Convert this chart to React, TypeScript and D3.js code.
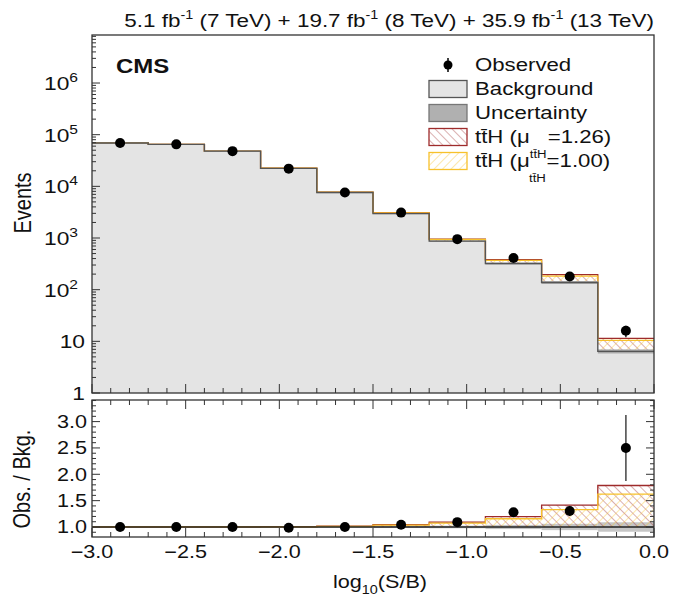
import React from "react";
import * as d3 from "d3";

// Bin edges in log10(S/B)
const binEdges = [-3.0, -2.7, -2.4, -2.1, -1.8, -1.5, -1.2, -0.9, -0.6, -0.3, 0.0];
// Observed events per bin and their uncertainties
const observed = [69000, 65000, 48000, 22000, 7600, 3100, 950, 410, 180, 16];
const observedErr = [263, 255, 219, 148, 87, 56, 31, 20, 13.4, 4.0];
// Expected background per bin
const background = [69000, 65000, 48000, 22300, 7600, 2970, 870, 320, 138, 6.4];
// Relative background uncertainty
const bkgRelUnc = [0.015, 0.015, 0.015, 0.015, 0.015, 0.02, 0.025, 0.04, 0.06, 0.09];
// Expected ttH signal for mu = 1
const signalSM = [35, 65, 96, 90, 91, 104, 65, 50, 45.5, 4.0];
// Signal strengths
const muFit = 1.26;
const muSM = 1.0;

const xTicksMajor = [-3.0, -2.5, -2.0, -1.5, -1.0, -0.5, 0.0];
const ratioTicksMajor = [1.0, 1.5, 2.0, 2.5, 3.0];
const decades = [0, 1, 2, 3, 4, 5, 6];

const FONT = "'Liberation Sans', Arial, Helvetica, sans-serif";
const BROWN = "#9e2b2b";
const YELLOW = "#f7c12b";
const SX = 1.2; // horizontal glyph stretch

type TProps = {
  x: number;
  y: number;
  size: number;
  anchor?: "start" | "middle" | "end";
  weight?: string;
  children: React.ReactNode;
};

// Horizontal text with slightly widened glyphs
function T({ x, y, size, anchor = "start", weight, children }: TProps) {
  return (
    <text
      transform={`translate(${x},${y}) scale(${SX},1)`}
      textAnchor={anchor}
      fontSize={size}
      fontWeight={weight}
      fill="#111"
    >
      {children}
    </text>
  );
}

// Vertical (rotated) axis title
function VT({ x, y, size, children }: { x: number; y: number; size: number; children: React.ReactNode }) {
  return (
    <text
      transform={`translate(${x},${y}) scale(${SX},1) rotate(-90)`}
      textAnchor="middle"
      fontSize={size}
      fill="#111"
    >
      {children}
    </text>
  );
}

export default function App() {
  const W = 675, H = 598;
  const L = 92, R = 654;
  const topT = 35, topB = 393;
  const ratT = 400, ratB = 537;

  const x = d3.scaleLinear().domain([-3, 0]).range([L, R]);
  const y = d3.scaleLog().domain([1, 8.5e6]).range([topB, topT]);
  const yr = d3.scaleLinear().domain([0.81, 3.41]).range([ratB, ratT]);

  const bins = observed.map((o, i) => ({
    lo: binEdges[i],
    hi: binEdges[i + 1],
    c: (binEdges[i] + binEdges[i + 1]) / 2,
    obs: o,
    err: observedErr[i],
    bkg: background[i],
    unc: bkgRelUnc[i],
    sig: signalSM[i],
  }));

  const stepLine = d3
    .line<[number, number]>()
    .x((d) => d[0])
    .y((d) => d[1])
    .curve(d3.curveStepAfter);

  const stepArea = d3
    .area<[number, number]>()
    .x((d) => d[0])
    .y0(topB)
    .y1((d) => d[1])
    .curve(d3.curveStepAfter);

  const stepPts = (f: (b: (typeof bins)[0]) => number) => {
    const pts: [number, number][] = bins.map((b) => [x(b.lo), f(b)]);
    pts.push([x(binEdges[binEdges.length - 1]), f(bins[bins.length - 1])]);
    return pts;
  };

  // minor ticks
  const xMinor = d3.range(-3.0, 0.001, 0.1).map((v) => +v.toFixed(2));
  const logMinor: number[] = [];
  for (let d = 0; d <= 6; d++) for (let k = 2; k <= 9; k++) {
    const v = k * Math.pow(10, d);
    if (v < 8.5e6) logMinor.push(v);
  }
  const ratioMinor = d3.range(0.9, 3.41, 0.1).map((v) => +v.toFixed(2));

  const isMajorX = (v: number) => xTicksMajor.some((m) => Math.abs(m - v) < 1e-6);
  const isMajorR = (v: number) => ratioTicksMajor.some((m) => Math.abs(m - v) < 1e-6);

  const legX = 429, legBoxW = 38, legBoxH = 17, legTextX = 475;
  const legRows = [65, 89, 113, 137, 161];
  const legSize = 18.5;

  return (
    <svg
      width={W}
      height={H}
      style={{ position: "absolute", left: 0, top: 0, background: "#fff" }}
      fontFamily={FONT}
    >
      <defs>
        <pattern id="hatchBrown" width="6" height="6" patternUnits="userSpaceOnUse" patternTransform="rotate(-45)">
          <line x1="0" y1="0" x2="0" y2="6" stroke={BROWN} strokeWidth="1" opacity="0.75" />
        </pattern>
        <pattern id="hatchYellow" width="6" height="6" patternUnits="userSpaceOnUse" patternTransform="rotate(45)">
          <line x1="0" y1="0" x2="0" y2="6" stroke={YELLOW} strokeWidth="1" opacity="0.8" />
        </pattern>
        <clipPath id="clipTop">
          <rect x={L} y={topT} width={R - L} height={topB - topT} />
        </clipPath>
        <clipPath id="clipRat">
          <rect x={L} y={ratT} width={R - L} height={ratB - ratT} />
        </clipPath>
      </defs>

      {/* Title */}
      <T x={R} y={27} size={18.7} anchor="end">
        5.1 fb<tspan dy={-8} fontSize={12}>-1</tspan>
        <tspan dy={8}> (7 TeV) + 19.7 fb</tspan>
        <tspan dy={-8} fontSize={12}>-1</tspan>
        <tspan dy={8}> (8 TeV) + 35.9 fb</tspan>
        <tspan dy={-8} fontSize={12}>-1</tspan>
        <tspan dy={8}> (13 TeV)</tspan>
      </T>

      {/* ===== Top panel ===== */}
      <g clipPath="url(#clipTop)">
        {/* background fill */}
        <path d={stepArea(stepPts((b) => y(b.bkg))) || ""} fill="#e4e4e4" />
        {/* signal hatches stacked on background */}
        {bins.map((b, i) => (
          <g key={"sg" + i}>
            <rect x={x(b.lo)} y={y(b.bkg + muFit * b.sig)} width={x(b.hi) - x(b.lo)} height={y(b.bkg) - y(b.bkg + muFit * b.sig)} fill="url(#hatchBrown)" />
            <rect x={x(b.lo)} y={y(b.bkg + muSM * b.sig)} width={x(b.hi) - x(b.lo)} height={y(b.bkg) - y(b.bkg + muSM * b.sig)} fill="url(#hatchYellow)" />
          </g>
        ))}
        <path d={stepLine(stepPts((b) => y(b.bkg + muFit * b.sig))) || ""} fill="none" stroke={BROWN} strokeWidth={1.3} />
        <path d={stepLine(stepPts((b) => y(b.bkg + muSM * b.sig))) || ""} fill="none" stroke={YELLOW} strokeWidth={1.3} />
        {/* background uncertainty */}
        {bins.map((b, i) => (
          <rect key={"bu" + i} x={x(b.lo)} y={y(b.bkg * (1 + b.unc))} width={x(b.hi) - x(b.lo)} height={Math.max(1, y(b.bkg * (1 - b.unc)) - y(b.bkg * (1 + b.unc)))} fill="#a8a8a8" />
        ))}
        <path d={stepLine(stepPts((b) => y(b.bkg))) || ""} fill="none" stroke="#555" strokeWidth={1.4} />
        {/* observed */}
        {bins.map((b, i) => (
          <g key={"ob" + i}>
            <line x1={x(b.c)} x2={x(b.c)} y1={y(b.obs + b.err)} y2={y(Math.max(b.obs - b.err, 1))} stroke="#222" strokeWidth={1.5} />
            <circle cx={x(b.c)} cy={y(b.obs)} r={5} fill="#000" />
          </g>
        ))}
      </g>

      {/* top frame & ticks */}
      <rect x={L} y={topT} width={R - L} height={topB - topT} fill="none" stroke="#333" strokeWidth={1.3} />
      {xMinor.map((v, i) => (
        <line key={"txm" + i} x1={x(v)} x2={x(v)} y1={topB} y2={topB - (isMajorX(v) ? 9 : 5)} stroke="#333" strokeWidth={1} />
      ))}
      {decades.map((d) => (
        <line key={"tyM" + d} x1={L} x2={L + 8} y1={y(Math.pow(10, d))} y2={y(Math.pow(10, d))} stroke="#333" strokeWidth={1} />
      ))}
      {logMinor.map((v, i) => (
        <line key={"tym" + i} x1={L} x2={L + 4} y1={y(v)} y2={y(v)} stroke="#333" strokeWidth={1} />
      ))}
      {/* y tick labels */}
      {decades.map((d) => {
        const yy = y(Math.pow(10, d)) + 7;
        if (d === 0) return <T key={"tl" + d} x={85} y={yy} size={19} anchor="end">1</T>;
        if (d === 1) return <T key={"tl" + d} x={85} y={yy} size={19} anchor="end">10</T>;
        return (
          <T key={"tl" + d} x={78} y={yy} size={19} anchor="end">
            10<tspan dy={-8} fontSize={13}>{d}</tspan>
          </T>
        );
      })}
      <VT x={31} y={203} size={20}>Events</VT>

      {/* CMS label */}
      <T x={116} y={73} size={20} weight="bold">CMS</T>

      {/* Legend */}
      <g>
        <line x1={448} x2={448} y1={legRows[0] - 7} y2={legRows[0] + 7} stroke="#000" strokeWidth={1.5} />
        <circle cx={448} cy={legRows[0]} r={4.5} fill="#000" />
        <T x={legTextX} y={legRows[0] + 6} size={legSize}>Observed</T>

        <rect x={legX} y={legRows[1] - legBoxH / 2} width={legBoxW} height={legBoxH} fill="#e4e4e4" stroke="#555" strokeWidth={1.3} />
        <T x={legTextX} y={legRows[1] + 6} size={legSize}>Background</T>

        <rect x={legX} y={legRows[2] - legBoxH / 2} width={legBoxW} height={legBoxH} fill="#b0b0b0" stroke="#777" strokeWidth={1.3} />
        <T x={legTextX} y={legRows[2] + 6} size={legSize}>Uncertainty</T>

        <rect x={legX} y={legRows[3] - legBoxH / 2} width={legBoxW} height={legBoxH} fill="url(#hatchBrown)" stroke={BROWN} strokeWidth={1.3} />
        <T x={legTextX} y={legRows[3] + 6} size={legSize}>
          tt{"\u0304"}H (μ<tspan dx={15}>={muFit.toFixed(2)})</tspan>
        </T>

        <rect x={legX} y={legRows[4] - legBoxH / 2} width={legBoxW} height={legBoxH} fill="url(#hatchYellow)" stroke={YELLOW} strokeWidth={1.3} />
        <T x={legTextX} y={legRows[4] + 6} size={legSize}>
          tt{"\u0304"}H (μ
          <tspan dy={-9} fontSize={11}>tt{"\u0304"}H</tspan>
          <tspan dy={9}>={muSM.toFixed(2)})</tspan>
        </T>
        <T x={529} y={legRows[4] + 21} size={11}>tt{"\u0304"}H</T>
      </g>

      {/* ===== Ratio panel ===== */}
      <g clipPath="url(#clipRat)">
        {bins.map((b, i) => (
          <rect key={"ru" + i} x={x(b.lo)} y={yr(1 + b.unc)} width={x(b.hi) - x(b.lo)} height={yr(1 - b.unc) - yr(1 + b.unc)} fill="#c6c6c6" />
        ))}
        {bins.map((b, i) => (
          <g key={"rs" + i}>
            <rect x={x(b.lo)} y={yr(1 + (muFit * b.sig) / b.bkg)} width={x(b.hi) - x(b.lo)} height={yr(1) - yr(1 + (muFit * b.sig) / b.bkg)} fill="url(#hatchBrown)" />
            <rect x={x(b.lo)} y={yr(1 + (muSM * b.sig) / b.bkg)} width={x(b.hi) - x(b.lo)} height={yr(1) - yr(1 + (muSM * b.sig) / b.bkg)} fill="url(#hatchYellow)" />
          </g>
        ))}
        <path d={stepLine(stepPts((b) => yr(1 + (muFit * b.sig) / b.bkg))) || ""} fill="none" stroke={BROWN} strokeWidth={1.3} />
        <path d={stepLine(stepPts((b) => yr(1 + (muSM * b.sig) / b.bkg))) || ""} fill="none" stroke={YELLOW} strokeWidth={1.3} />
        <line x1={L} x2={R} y1={yr(1)} y2={yr(1)} stroke="#222" strokeWidth={1.3} />
        {bins.map((b, i) => (
          <g key={"ro" + i}>
            <line x1={x(b.c)} x2={x(b.c)} y1={yr((b.obs + b.err) / b.bkg)} y2={yr((b.obs - b.err) / b.bkg)} stroke="#444" strokeWidth={1.5} />
            <circle cx={x(b.c)} cy={yr(b.obs / b.bkg)} r={5} fill="#000" />
          </g>
        ))}
      </g>

      <rect x={L} y={ratT} width={R - L} height={ratB - ratT} fill="none" stroke="#333" strokeWidth={1.3} />
      {xMinor.map((v, i) => (
        <g key={"rxm" + i}>
          <line x1={x(v)} x2={x(v)} y1={ratB} y2={ratB - (isMajorX(v) ? 9 : 5)} stroke="#333" strokeWidth={1} />
          <line x1={x(v)} x2={x(v)} y1={ratT} y2={ratT + (isMajorX(v) ? 9 : 5)} stroke="#333" strokeWidth={1} />
        </g>
      ))}
      {ratioMinor.map((v, i) => (
        <g key={"rym" + i}>
          <line x1={L} x2={L + (isMajorR(v) ? 8 : 4)} y1={yr(v)} y2={yr(v)} stroke="#333" strokeWidth={1} />
          <line x1={R} x2={R - (isMajorR(v) ? 8 : 4)} y1={yr(v)} y2={yr(v)} stroke="#333" strokeWidth={1} />
        </g>
      ))}
      {ratioTicksMajor.map((v) => (
        <T key={"rl" + v} x={87} y={yr(v) + 6.5} size={18} anchor="end">{v.toFixed(1)}</T>
      ))}
      {xTicksMajor.map((v) => (
        <T key={"xl" + v} x={x(v)} y={558} size={18} anchor="middle">
          {v === 0 ? "0.0" : "\u2212" + Math.abs(v).toFixed(1)}
        </T>
      ))}
      <VT x={30} y={479} size={20}>Obs. / Bkg.</VT>
      <T x={427} y={588} size={18} anchor="end">
        log<tspan dy={6} fontSize={12}>10</tspan><tspan dy={-6}>(S/B)</tspan>
      </T>
    </svg>
  );
}
